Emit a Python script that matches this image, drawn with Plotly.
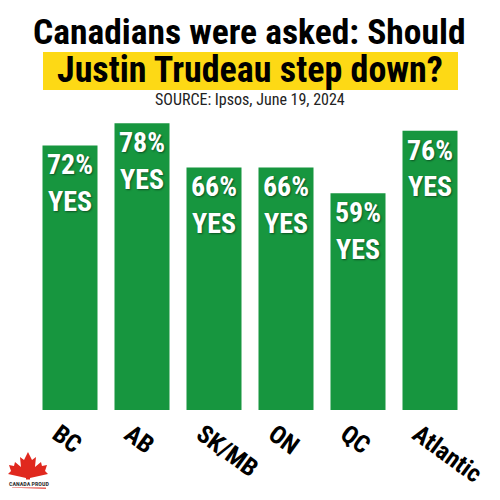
import plotly.graph_objects as go

# Ipsos poll, June 19 2024 - share saying Trudeau should step down
regions = ["BC", "AB", "SK/MB", "ON", "QC", "Atlantic"]
yes_pct = [72, 78, 66, 66, 59, 76]
bar_labels = [f"{v}%<br>YES" for v in yes_pct]

title_line1 = "Canadians were asked: Should"
title_line2 = "Justin Trudeau step down?"
source_text = "SOURCE: Ipsos, June 19, 2024"
logo_text = "CANADA PROUD"

GREEN = "#17963F"
YELLOW = "#FDD915"
RED = "#E0281E"
COND = "Roboto Condensed, Open Sans Condensed, DejaVu Sans Condensed, sans-serif"

# the page body adds an 8px margin, so the figure is 492px and everything
# below is placed in screen pixels through px()
OFF = 8
SIZE = 500 - OFF
L, R, T, B = 34 - OFF, 34, 116 - OFF, 90
PW, PH = SIZE - L - R, SIZE - T - B


def px(x, y):
    return (x - OFF - L) / PW, (SIZE - B - (y - OFF)) / PH


fig = go.Figure()

fig.add_trace(go.Bar(
    x=regions, y=yes_pct,
    marker_color=GREEN, marker_line_width=0,
    text=bar_labels, textposition="inside", insidetextanchor="end",
    textangle=0,
    textfont=dict(family=COND, size=28, color="white", weight="bold",
                  shadow="1px 1px 2px rgba(0,0,0,0.45)"),
    hoverinfo="skip", showlegend=False,
))

fig.update_layout(
    width=SIZE, height=SIZE, autosize=False,
    paper_bgcolor="white", plot_bgcolor="white",
    margin=dict(l=L, r=R, t=T, b=B),
    bargap=0.236,
    xaxis=dict(showgrid=False, zeroline=False, showline=False, ticks="",
               tickangle=36, automargin=False, ticklabelshift=-12, ticklabelstandoff=4,
               tickfont=dict(family=COND, size=25, color="black", weight="bold")),
    yaxis=dict(range=[0, 80], visible=False, showgrid=False, zeroline=False),
)

# header
x0, y0 = px(43, 90)
x1, y1 = px(458, 52)
fig.add_shape(type="rect", xref="paper", yref="paper", x0=x0, x1=x1, y0=y0, y1=y1,
              fillcolor=YELLOW, line_width=0, layer="below")
fig.add_annotation(text=title_line1, xref="paper", yref="paper",
                   x=px(249, 0)[0], y=px(0, 32)[1], xanchor="center", yanchor="middle",
                   showarrow=False, font=dict(family=COND, size=35.5, color="black", weight="bold"))
fig.add_annotation(text=title_line2, xref="paper", yref="paper",
                   x=px(250, 0)[0], y=px(0, 70)[1], xanchor="center", yanchor="middle",
                   showarrow=False, font=dict(family=COND, size=36, color="black", weight="bold"))
fig.add_annotation(text=source_text, xref="paper", yref="paper",
                   x=px(250, 0)[0], y=px(0, 100)[1], xanchor="center", yanchor="middle",
                   showarrow=False, font=dict(family=COND, size=16, color="#222222"))

# logo bottom-left: maple leaf + wordmark
leaf_px = [(28, 452), (24, 460), (20, 457), (21, 467), (15, 462), (14, 466), (9, 465),
           (11, 471), (8, 474), (26, 478), (26, 481), (30, 481), (30, 478), (48, 474),
           (45, 471), (47, 465), (42, 466), (41, 462), (35, 467), (36, 457), (32, 460)]
pts = [px(a, b) for a, b in leaf_px]
path = "M " + " L ".join(f"{a:.4f},{b:.4f}" for a, b in pts) + " Z"
fig.add_shape(type="path", xref="paper", yref="paper", path=path,
              fillcolor=RED, line_width=0)
lx0, ly = px(9, 483)
lx1, _ = px(48, 483)
fig.add_shape(type="line", xref="paper", yref="paper", x0=lx0, x1=lx1, y0=ly, y1=ly,
              line=dict(color="#555555", width=1))
sx0, sy0 = px(12, 487)
sx1, sy1 = px(46, 488)
fig.add_shape(type="line", xref="paper", yref="paper", x0=sx0, x1=sx1, y0=sy0, y1=sy1,
              line=dict(color=RED, width=1.5))
fig.add_annotation(text=logo_text, xref="paper", yref="paper",
                   x=px(29, 0)[0], y=px(0, 483)[1], xanchor="center", yanchor="middle",
                   showarrow=False, bgcolor="white", borderpad=0,
                   font=dict(family=COND, size=6, color="#333333", weight="bold"))

fig.write_html("out.html")
